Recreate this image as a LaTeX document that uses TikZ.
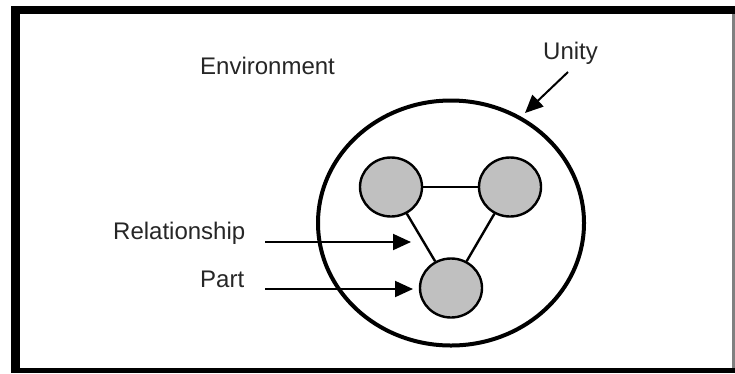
\documentclass[tikz,border=0pt]{standalone}
\usepackage{fontspec}
\setmainfont{Liberation Sans}
\usetikzlibrary{shapes.geometric,arrows.meta}
\definecolor{partgray}{RGB}{192,192,192}
\tikzset{
  part/.style={ellipse, draw=black, line width=2.4pt, fill=partgray, minimum width=62pt, minimum height=59pt, inner sep=0pt},
  whole/.style={ellipse, draw=black, line width=4pt, minimum width=266pt, minimum height=245pt, inner sep=0pt},
  rel/.style={line width=2.4pt},
  pointer/.style={line width=2pt, -{Triangle[length=18pt,width=16pt]}},
  lbl/.style={anchor=base west, inner sep=0pt, text=black!85, font=\fontsize{24}{27}\selectfont}
}
\begin{document}
\begin{tikzpicture}[x=1pt,y=-1pt]
\useasboundingbox (0,0) rectangle (735,373);
\fill[white] (0,0) rectangle (735,373);
% frame
\fill[black] (11,6) rectangle (20,373);
\fill[black] (11,6) rectangle (735,14);
\fill[black] (11,368) rectangle (735,373);
\fill[gray] (732,14) rectangle (735,368);
% unity
\node[whole] (unity) at (451,223) {};
% parts
\node[part] (p1) at (391,187) {};
\node[part] (p2) at (510,187) {};
\node[part] (p3) at (451,288) {};
\draw[rel] (p1) -- (p2);
\draw[rel] (p1) -- (p3);
\draw[rel] (p2) -- (p3);
% labels
\node[lbl] (env) at (200,74) {Environment};
\node[lbl] (uni) at (543,59) {Unity};
\node[lbl] (relt) at (113,239) {Relationship};
\node[lbl] (partt) at (200,287) {Part};
% pointers
\coordinate (us) at (568,72);
\coordinate (ut) at (525,113);
\coordinate (rs) at (265,242);
\coordinate (rt) at (411,242);
\coordinate (ps) at (265,289);
\coordinate (pt) at (413,289);
\draw[pointer] (us) -- (ut);
\draw[pointer] (rs) -- (rt);
\draw[pointer] (ps) -- (pt);
\end{tikzpicture}
\end{document}
